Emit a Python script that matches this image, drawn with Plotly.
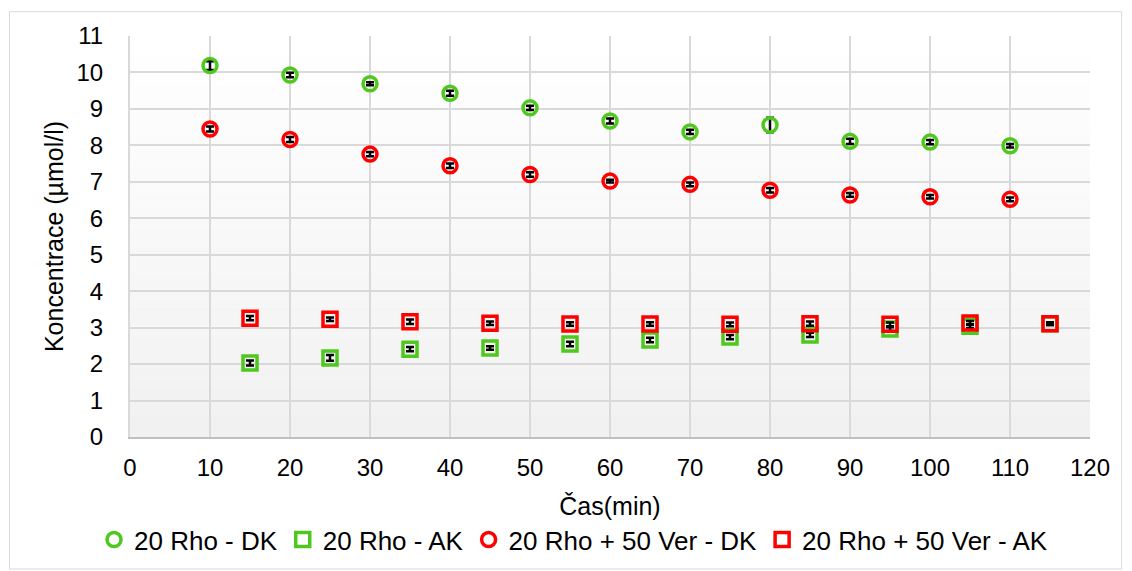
import plotly.graph_objects as go

# ---- data ----
x_dk = [10, 20, 30, 40, 50, 60, 70, 80, 90, 100, 110]
x_ak = [15, 25, 35, 45, 55, 65, 75, 85, 95, 105, 115]

rho_dk = [10.19, 9.93, 9.69, 9.43, 9.03, 8.67, 8.37, 8.56, 8.11, 8.09, 7.99]
rho_dk_err = [0.12, 0.06, 0.04, 0.07, 0.06, 0.07, 0.06, 0.2, 0.07, 0.06, 0.05]

rho_ak = [2.03, 2.17, 2.41, 2.44, 2.55, 2.66, 2.74, 2.80, 2.96, 3.04, 3.11]
rho_ak_err = [0.07, 0.08, 0.06, 0.05, 0.06, 0.06, 0.06, 0.06, 0.05, 0.05, 0.04]

mix_dk = [8.45, 8.16, 7.76, 7.44, 7.2, 7.02, 6.93, 6.77, 6.64, 6.59, 6.52]
mix_dk_err = [0.07, 0.07, 0.06, 0.06, 0.06, 0.04, 0.05, 0.06, 0.05, 0.05, 0.05]

mix_ak = [3.26, 3.23, 3.16, 3.12, 3.1, 3.1, 3.09, 3.11, 3.09, 3.13, 3.11]
mix_ak_err = [0.06, 0.05, 0.06, 0.05, 0.05, 0.05, 0.05, 0.06, 0.05, 0.05, 0.04]

names = ["20 Rho - DK", "20 Rho - AK", "20 Rho + 50 Ver - DK", "20 Rho + 50 Ver - AK"]
GREEN = "#4ec81c"
RED = "#ff0000"
FONT = "Liberation Sans, Arial, sans-serif"

fig = go.Figure()

series = [
    (x_dk, rho_dk, rho_dk_err, names[0], "circle-open", GREEN),
    (x_ak, rho_ak, rho_ak_err, names[1], "square-open", GREEN),
    (x_dk, mix_dk, mix_dk_err, names[2], "circle-open", RED),
    (x_ak, mix_ak, mix_ak_err, names[3], "square-open", RED),
]
for xs, ys, es, nm, sym, col in series:
    fig.add_trace(go.Scatter(
        x=xs, y=ys, name=nm, mode="markers",
        marker=dict(symbol=sym, size=14, color=col, line=dict(width=3.5, color=col)),
        error_y=dict(type="data", array=es, visible=True, color="black",
                     thickness=2.5, width=4),
    ))

# gradient plot background (white -> light grey)
n = 40
shapes = []
for i in range(n):
    t = i / (n - 1)
    v = int(round(255 - (255 - 241) * t))
    shapes.append(dict(type="rect", xref="x domain", yref="y domain",
                       x0=0, x1=1, y0=1 - (i + 1) / n, y1=1 - i / n,
                       fillcolor=f"rgb({v},{v},{v})", line=dict(width=0),
                       layer="below"))
# outer chart border
shapes.append(dict(type="rect", xref="paper", yref="paper",
                   x0=-0.1255, x1=1.033, y0=-0.3292, y1=1.0605,
                   line=dict(color="#d9d9d9", width=1), fillcolor="rgba(0,0,0,0)",
                   layer="below"))

fig.update_layout(
    width=1132, height=571,
    margin=dict(l=130, r=42, t=36, b=134, autoexpand=False),
    paper_bgcolor="white", plot_bgcolor="white",
    font=dict(family=FONT, size=24, color="black"),
    shapes=shapes,
    showlegend=True,
    legend=dict(orientation="h", x=0.462, xanchor="center", y=-0.256, yanchor="middle",
                font=dict(size=26), itemwidth=30, tracegroupgap=0,
                bgcolor="rgba(0,0,0,0)"),
    xaxis=dict(range=[0, 120], tickmode="array", tickvals=list(range(0, 121, 10)),
               showgrid=True, gridcolor="#d9d9d9", gridwidth=2,
               showline=True, linecolor="#bfbfbf", linewidth=2,
               zeroline=False, ticks="", ticklabelstandoff=8, automargin=False,
               tickfont=dict(size=24),
               title=dict(text="Čas(min)", font=dict(size=25), standoff=18)),
    yaxis=dict(range=[0, 11], tickmode="array", tickvals=list(range(0, 12)),
               showgrid=True, gridcolor="#d9d9d9", gridwidth=2,
               showline=True, linecolor="#d9d9d9", linewidth=2,
               zeroline=False, ticks="", ticklabelstandoff=20, automargin=False,
               tickfont=dict(size=24),
               title=dict(text="Koncentrace (µmol/l)", font=dict(size=25), standoff=6)),
)

fig.write_html("out.html")
